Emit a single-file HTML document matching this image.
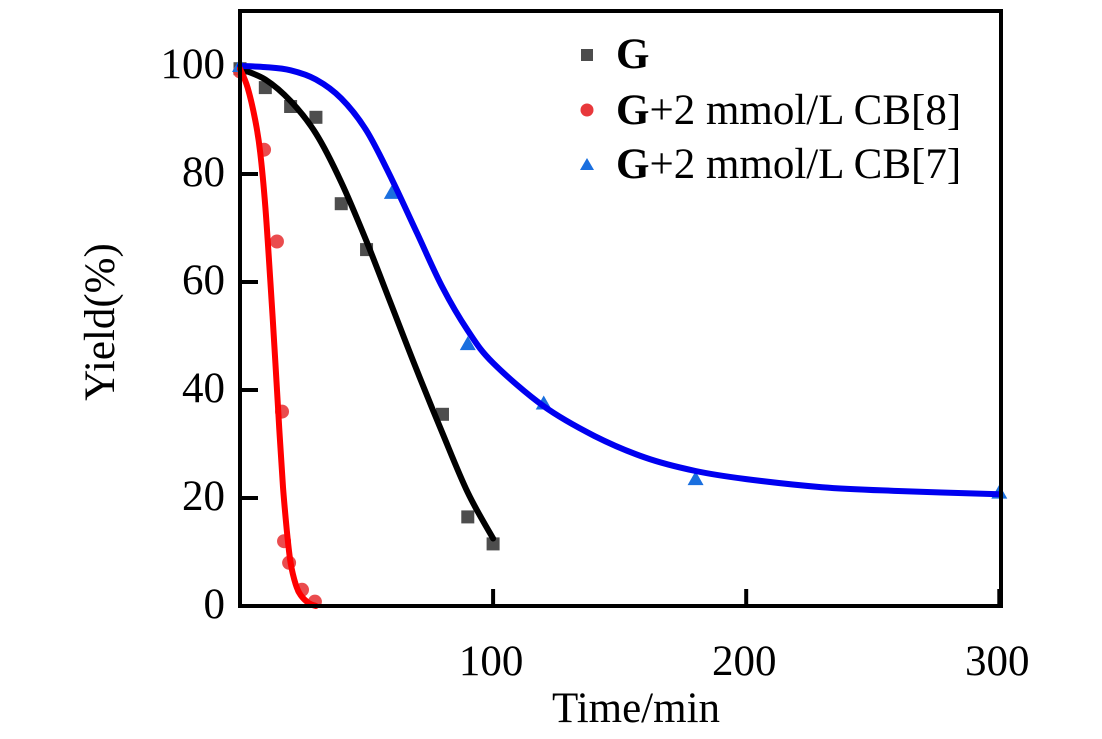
<!DOCTYPE html>
<html><head><meta charset="utf-8"><style>
body{margin:0;background:#fff;}
svg{display:block;}
svg text{font-family:"Liberation Serif","DejaVu Serif",serif;}
</style></head><body>
<svg id="chart" width="1102" height="739" viewBox="0 0 1102 739" xmlns="http://www.w3.org/2000/svg" font-family="Liberation Serif, DejaVu Serif, serif">
<g id="marks"></g>
<rect x="240" y="11" width="761" height="595" fill="none" stroke="#000" stroke-width="4"/>
<g id="axes"></g>
<text x="636" y="722" font-size="43" text-anchor="middle" font-family="Liberation Serif, serif">Time/min</text>
<text transform="translate(114,322) rotate(-90)" font-size="43" text-anchor="middle" font-family="Liberation Serif, serif">Yield(%)</text>
<g>
<rect x="581" y="49" width="12" height="12" fill="#4d4d4d"/>
<text x="616" y="68" font-size="43" font-weight="bold" font-family="Liberation Serif, serif">G</text>
<circle cx="587" cy="110" r="6.5" fill="#e8383b"/>
<text x="616" y="124" font-size="43" font-family="Liberation Serif, serif"><tspan font-weight="bold">G</tspan>+2 mmol/L CB[8]</text>
<polygon points="580,170 594,170 587,158" fill="#1a6fdf"/>
<text x="616" y="178" font-size="43" font-family="Liberation Serif, serif"><tspan font-weight="bold">G</tspan>+2 mmol/L CB[7]</text>
</g>
</svg>
<script>
const xTicks=[100,200,300];
const yTicks=[0,20,40,60,80,100];
const gX=[0,10,20,30,40,50,80,90,100];
const gY=[99.5,96,92.5,90.5,74.5,66,35.5,16.5,11.5];
const cb8X=[0,9.5,14.6,16.6,17.4,19.4,24.5,29.6];
const cb8Y=[99,84.5,67.5,36,12,8,3,0.8];
const cb7X=[0,60,90,120,180,300];
const cb7Y=[100,76.5,48.5,37.5,23.5,21];
const gFitX=[0,10,20,30,40,50,60,70,80,90,100];
const gFitY=[99.5,97.5,93.5,87.5,78.5,67.5,55.5,43.5,32,21,12.5];
const cb8FitX=[0,3,6,8,10,12,14,15.5,17,18.5,20,22,24,27,30];
const cb8FitY=[99.5,96,90,84,74,60,45,33,22,14,8,4,2,0.6,0];
const cb7FitX=[0,10,20,30,40,50,60,70,80,90,100,120,140,160,180,200,230,260,300];
const cb7FitY=[100,99.8,99.2,97.5,94,88,79,69,59,51,45,37,31.5,27.5,25,23.5,22,21.3,20.7];
const X=v=>240+v*2.531;
const Y=v=>606-v*5.4;
const NS="http://www.w3.org/2000/svg";
const marks=document.getElementById('marks'), axes=document.getElementById('axes');
function mk(tag,attrs,parent){const e=document.createElementNS(NS,tag);for(const k in attrs)e.setAttribute(k,attrs[k]);parent.appendChild(e);return e;}
function curve(xs,ys,color,name){
  const P=xs.map((x,i)=>[X(x),Y(ys[i])]);
  let d='M'+P[0][0].toFixed(1)+','+P[0][1].toFixed(1);
  for(let i=0;i<P.length-1;i++){
    const p0=P[i-1]||P[i],p1=P[i],p2=P[i+1],p3=P[i+2]||P[i+1];
    const c1=[p1[0]+(p2[0]-p0[0])/6,p1[1]+(p2[1]-p0[1])/6];
    const c2=[p2[0]-(p3[0]-p1[0])/6,p2[1]-(p3[1]-p1[1])/6];
    d+=` C${c1[0].toFixed(1)},${c1[1].toFixed(1)} ${c2[0].toFixed(1)},${c2[1].toFixed(1)} ${p2[0].toFixed(1)},${p2[1].toFixed(1)}`;
  }
  const p=mk('path',{d:d,fill:'none',stroke:color,'stroke-width':6,'stroke-linejoin':'round','stroke-linecap':'round'},marks);
  
  
}
gX.forEach((x,i)=>{const r=mk('rect',{x:X(x)-6.5,y:Y(gY[i])-6.5,width:13,height:13,fill:'#4d4d4d'},marks);
  
  });
cb8X.forEach((x,i)=>{const c=mk('circle',{cx:X(x),cy:Y(cb8Y[i]),r:7,fill:'#e8383b',opacity:0.9},marks);
  
  });
cb7X.forEach((x,i)=>{const cx=X(x),cy=Y(cb7Y[i]);const t=mk('polygon',{points:`${cx-8},${cy+6} ${cx+8},${cy+6} ${cx},${cy-8}`,fill:'#1a6fdf'},marks);
  
  });
curve(gFitX,gFitY,'#000','g-fit-line');
curve(cb7FitX,cb7FitY,'#0000f0','cb7-fit-line');
curve(cb8FitX,cb8FitY,'#ff0000','cb8-fit-line');
xTicks.forEach(v=>{const l=mk('line',{x1:X(v),x2:X(v),y1:606,y2:589,stroke:'#000','stroke-width':4},axes);
  
  
  const t=mk('text',{x:X(v)-2,y:675,'font-size':43,'text-anchor':'middle','font-family':'Liberation Serif, serif'},axes);t.textContent=v;
  
  });
yTicks.forEach(v=>{if(v>0&&v<100){const l=mk('line',{x1:240,x2:258,y1:Y(v),y2:Y(v),stroke:'#000','stroke-width':4},axes);
  
  }
  const t=mk('text',{x:225,y:Y(v)+12,'font-size':43,'text-anchor':'end','font-family':'Liberation Serif, serif'},axes);t.textContent=v;
  
  });
</script>
</body></html>
